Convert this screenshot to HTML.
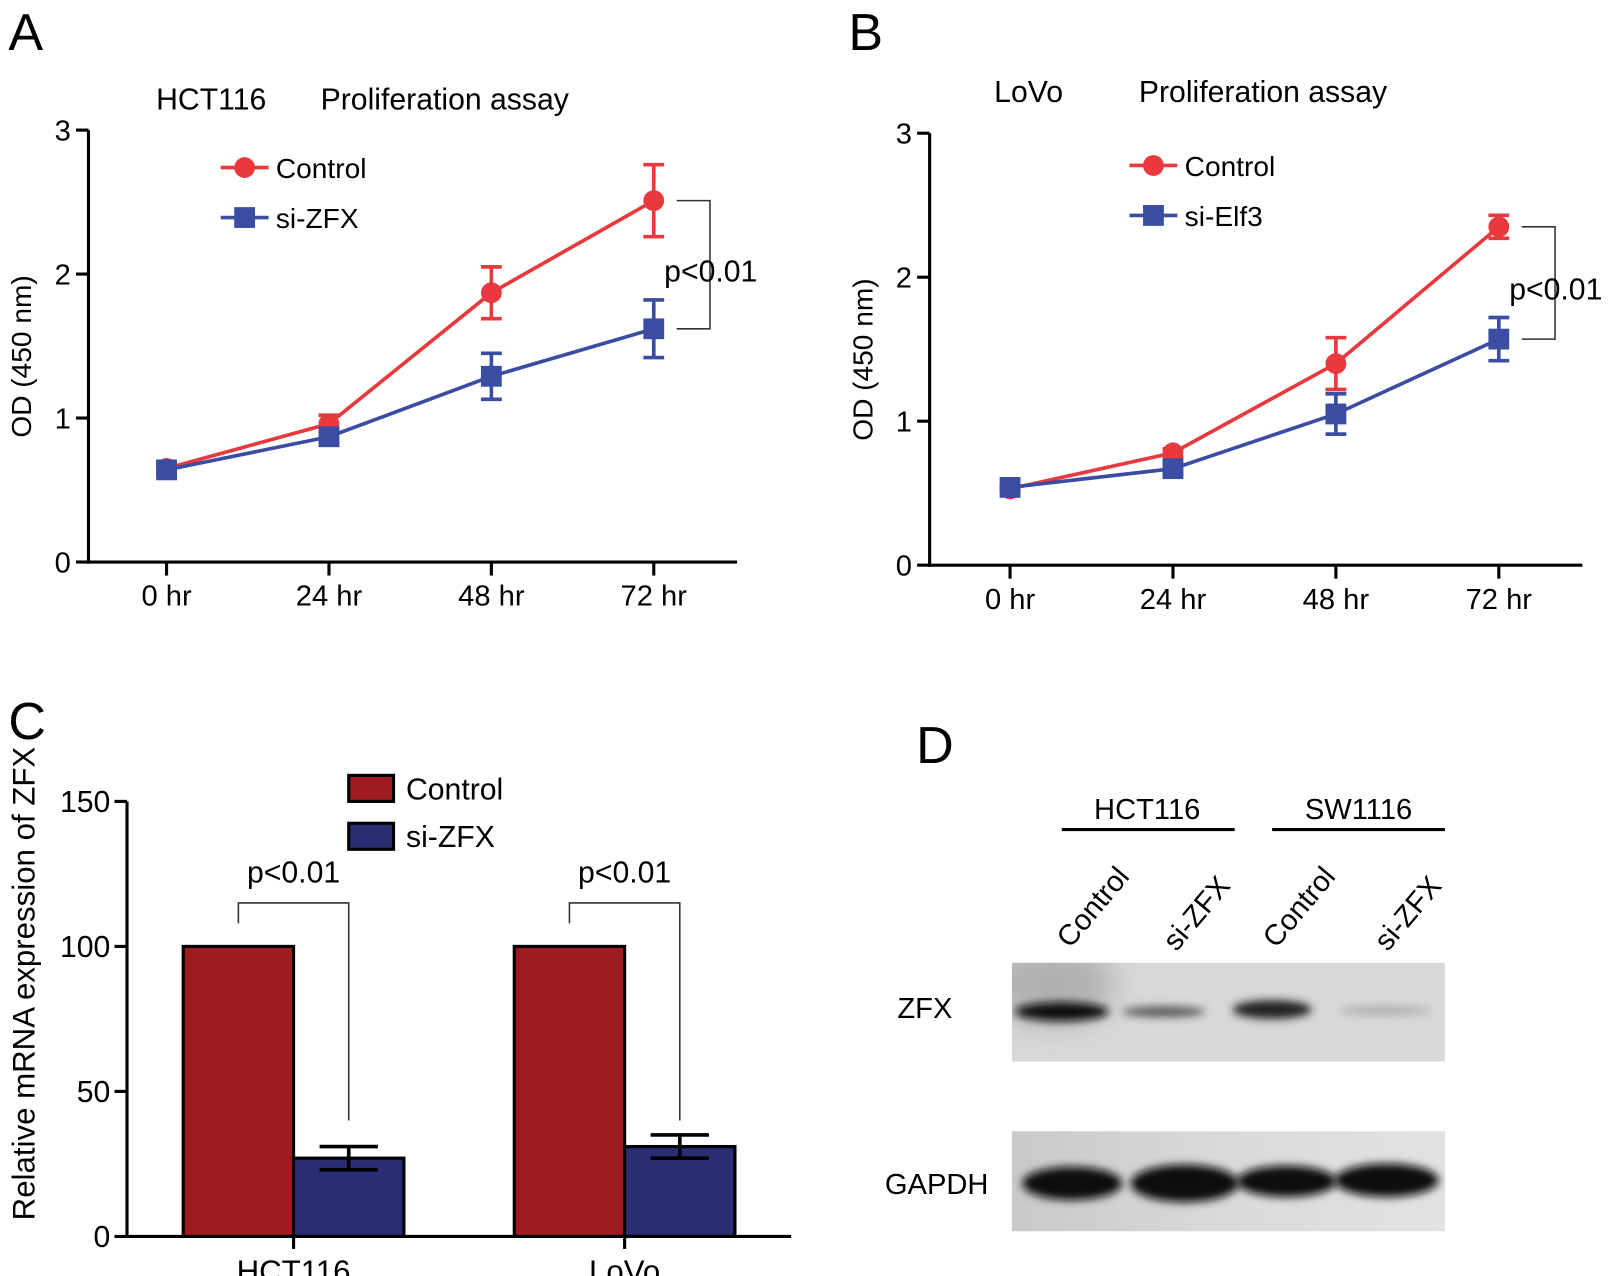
<!DOCTYPE html>
<html><head><meta charset="utf-8"><style>
html,body{margin:0;padding:0;background:#fff;}
svg{display:block;font-family:"Liberation Sans",Arial,sans-serif;}
</style></head><body>
<svg id="fig" width="1624" height="1276" viewBox="0 0 1560 1226" preserveAspectRatio="none" xmlns="http://www.w3.org/2000/svg">
<defs>
<filter id="blur3" x="-50%" y="-200%" width="200%" height="500%"><feGaussianBlur stdDeviation="4"/></filter>
<filter id="blur6" x="-50%" y="-50%" width="200%" height="200%"><feGaussianBlur stdDeviation="14"/></filter>
<clipPath id="zfxclip"><rect x="972" y="925" width="416" height="95"/></clipPath>
<linearGradient id="wbbg" x1="0" x2="1"><stop offset="0" stop-color="#c9c9c9"/><stop offset="0.5" stop-color="#dadada"/><stop offset="1" stop-color="#e2e2e2"/></linearGradient>
</defs>
<g id="panelA"></g>
<g id="panelB"></g>
<g id="panelC"></g>
<g id="panelD">
  <text x="880" y="733" font-size="50">D</text>
  <text x="1102" y="787" font-size="28" text-anchor="middle">HCT116</text>
  <line x1="1020" y1="797" x2="1186" y2="797" stroke="#000" stroke-width="3"/>
  <text x="1305" y="787" font-size="28" text-anchor="middle">SW1116</text>
  <line x1="1222" y1="797" x2="1388" y2="797" stroke="#000" stroke-width="3"/>
  <text transform="translate(1028,912) rotate(-50)" font-size="28">Control</text>
  <text transform="translate(1130,915) rotate(-50)" font-size="28">si-ZFX</text>
  <text transform="translate(1226,912) rotate(-50)" font-size="28">Control</text>
  <text transform="translate(1333,915) rotate(-50)" font-size="28">si-ZFX</text>
  <text x="862" y="978" font-size="28">ZFX</text>
  <text x="850" y="1147" font-size="28">GAPDH</text>
  <g clip-path="url(#zfxclip)">
    <rect x="972" y="925" width="416" height="95" fill="#d8d8d8"/>
    <ellipse cx="1010" cy="945" rx="60" ry="40" fill="#a0a0a0" filter="url(#blur6)" opacity="0.7"/>
    <ellipse cx="1020" cy="972" rx="45" ry="9" fill="#111" filter="url(#blur3)"/>
    <ellipse cx="1118" cy="972" rx="40" ry="5" fill="#555" filter="url(#blur3)"/>
    <ellipse cx="1222" cy="970" rx="38" ry="9" fill="#222" filter="url(#blur3)"/>
    <ellipse cx="1330" cy="971" rx="45" ry="4" fill="#aaa" filter="url(#blur3)"/>
  </g>
  <g>
    <rect x="972" y="1087" width="416" height="96" fill="url(#wbbg)"/>
    <ellipse cx="1030" cy="1137" rx="48" ry="16" fill="#111" filter="url(#blur3)"/>
    <ellipse cx="1138" cy="1137" rx="52" ry="18" fill="#0c0c0c" filter="url(#blur3)"/>
    <ellipse cx="1236" cy="1135" rx="48" ry="15" fill="#111" filter="url(#blur3)"/>
    <ellipse cx="1332" cy="1134" rx="50" ry="16" fill="#111" filter="url(#blur3)"/>
  </g>
</g>
</svg>
<script>
const NS='http://www.w3.org/2000/svg';
const timeLabels=['0 hr','24 hr','48 hr','72 hr'];
const yTicksLine=[0,1,2,3];
const aControl=[0.65,0.96,1.87,2.51];
const aControlErr=[0.04,0.06,0.18,0.25];
const aSi=[0.64,0.87,1.29,1.62];
const aSiErr=[0.03,0.04,0.16,0.20];
const bControl=[0.53,0.78,1.40,2.35];
const bControlErr=[0.02,0.03,0.18,0.08];
const bSi=[0.54,0.67,1.05,1.57];
const bSiErr=[0.02,0.03,0.14,0.15];
const cCategories=['HCT116','LoVo'];
const cControl=[100,100];
const cSi=[27,31];
const cSiErr=[4,4];
const yTicksBar=[0,50,100,150];

function mk(parent,tag,attrs,text){const e=document.createElementNS(NS,tag);for(const k in attrs)e.setAttribute(k,attrs[k]);if(text!==undefined)e.textContent=text;parent.appendChild(e);return e;}

function lineChart(g,o){
  const X=i=>o.x0+o.step*(i+0.5)+o.off, Y=v=>o.y0-(v/3)*(o.y0-o.y3);
  let t=mk(g,'text',{x:o.lx,y:o.ly,'font-size':50});t.textContent=o.letter;
  
  t=mk(g,'text',{x:o.t1x,y:o.ty,'font-size':29},o.t1);
  
  t=mk(g,'text',{x:o.t2x,y:o.ty,'font-size':29},'Proliferation assay');
  
  let a=mk(g,'line',{x1:o.x0,y1:o.y3,x2:o.x0,y2:o.y0+1.5,stroke:'#000','stroke-width':3});
  
  a=mk(g,'line',{x1:o.x0-1.5,y1:o.y0,x2:o.xEnd,y2:o.y0,stroke:'#000','stroke-width':3});
  
  yTicksLine.forEach(v=>{
    const tk=mk(g,'line',{x1:o.x0-12,y1:Y(v),x2:o.x0,y2:Y(v),stroke:'#000','stroke-width':3});
    
    const tl=mk(g,'text',{x:o.x0-17,y:Y(v)+10,'font-size':28,'text-anchor':'end'},String(v));
    
  });
  timeLabels.forEach((s,i)=>{
    const tk=mk(g,'line',{x1:X(i),y1:o.y0,x2:X(i),y2:o.y0+13,stroke:'#000','stroke-width':3});
    
    const tl=mk(g,'text',{x:X(i),y:o.y0+42,'font-size':28,'text-anchor':'middle'},s);
    
  });
  const yt=mk(g,'text',{transform:`translate(${o.x0-55},${(o.y0+o.y3)/2+10}) rotate(-90)`,'font-size':27,'text-anchor':'middle'},'OD (450 nm)');
  
  const series=[[o.ctrl,o.ctrlErr,'#e8393e','circle','control'],[o.si,o.siErr,'#3a4da3','square','si']];
  series.forEach(([vals,errs,col,shape,nm])=>{
    const pl=mk(g,'polyline',{points:vals.map((v,i)=>X(i)+','+Y(v)).join(' '),fill:'none',stroke:col,'stroke-width':3.5});
    
    vals.forEach((v,i)=>{
      const e=errs[i],x=X(i);
      const eb=mk(g,'path',{d:`M${x},${Y(v+e)}V${Y(v-e)}M${x-10},${Y(v+e)}H${x+10}M${x-10},${Y(v-e)}H${x+10}`,stroke:col,'stroke-width':3.5,fill:'none'});
      
      let m;
      if(shape==='circle') m=mk(g,'circle',{cx:x,cy:Y(v),r:10,fill:col});
      else m=mk(g,'rect',{x:x-10,y:Y(v)-10,width:20,height:20,fill:col});
      
    });
  });
  const lg=mk(g,'g',{});
  mk(lg,'line',{x1:o.legX,y1:o.legY,x2:o.legX+46,y2:o.legY,stroke:'#e8393e','stroke-width':3.5});
  mk(lg,'circle',{cx:o.legX+23,cy:o.legY,r:10,fill:'#e8393e'});
  let lt=mk(lg,'text',{x:o.legX+53,y:o.legY+10,'font-size':27},'Control');
  
  mk(lg,'line',{x1:o.legX,y1:o.legY+48,x2:o.legX+46,y2:o.legY+48,stroke:'#3a4da3','stroke-width':3.5});
  mk(lg,'rect',{x:o.legX+13,y:o.legY+38,width:20,height:20,fill:'#3a4da3'});
  lt=mk(lg,'text',{x:o.legX+53,y:o.legY+58,'font-size':27},o.siName);
  
  const x3=X(3),yc=Y(o.ctrl[3]),ys=Y(o.si[3]);
  const br=mk(g,'path',{d:`M${x3+22},${yc}H${x3+54}V${ys}H${x3+22}`,stroke:'#333','stroke-width':1.5,fill:'none'});
  
  const pt=mk(g,'text',{x:x3+10,y:(yc+ys)/2+16,'font-size':29},'p<0.01');
  
}

lineChart(document.getElementById('panelA'),{letter:'A',lx:8,ly:48,t1:'HCT116',t1x:150,t2x:308,ty:105,x0:85,y0:540,y3:125,xEnd:708,step:156,off:-3,
  ctrl:aControl,ctrlErr:aControlErr,si:aSi,siErr:aSiErr,legX:212,legY:161,siName:'si-ZFX'});
lineChart(document.getElementById('panelB'),{letter:'B',lx:815,ly:48,t1:'LoVo',t1x:955,t2x:1094,ty:98,x0:893,y0:543,y3:128,xEnd:1520,step:156.5,off:-1,
  ctrl:bControl,ctrlErr:bControlErr,si:bSi,siErr:bSiErr,legX:1085,legY:159,siName:'si-Elf3'});

(function(){
  const g=document.getElementById('panelC');
  const x0=122,y0=1188,y150=770,Y=v=>y0-(v/150)*(y0-y150);
  const catX=i=>282+i*318, bw=106;
  let t=mk(g,'text',{x:8,y:710,'font-size':50},'C');
  
  cCategories.forEach((c,i)=>{
    const cx=catX(i);
    let b=mk(g,'rect',{x:cx-bw,y:Y(cControl[i]),width:bw,height:y0-Y(cControl[i]),fill:'#9e1b20',stroke:'#000','stroke-width':3});
    
    b=mk(g,'rect',{x:cx,y:Y(cSi[i]),width:bw,height:y0-Y(cSi[i]),fill:'#2b2d73',stroke:'#000','stroke-width':3});
    
    const ex=cx+bw/2,v=cSi[i],e=cSiErr[i];
    const eb=mk(g,'path',{d:`M${ex},${Y(v+e)}V${Y(v-e)}M${ex-28},${Y(v+e)}H${ex+28}M${ex-28},${Y(v-e)}H${ex+28}`,stroke:'#000','stroke-width':3.5,fill:'none'});
    
    const br=mk(g,'path',{d:`M${cx-bw/2},${Y(108)}V${Y(115)}H${ex}V${Y(40)}`,stroke:'#333','stroke-width':1.5,fill:'none'});
    
    const pt=mk(g,'text',{x:cx,y:Y(122),'font-size':29,'text-anchor':'middle'},'p<0.01');
    
    const tk=mk(g,'line',{x1:cx,y1:y0,x2:cx,y2:y0+12,stroke:'#000','stroke-width':3});
    
    const tl=mk(g,'text',{x:cx,y:y0+44,'font-size':30,'text-anchor':'middle'},c);
    
  });
  let a=mk(g,'line',{x1:x0,y1:y150,x2:x0,y2:y0+1.5,stroke:'#000','stroke-width':3});
  
  a=mk(g,'line',{x1:x0-1.5,y1:y0,x2:760,y2:y0,stroke:'#000','stroke-width':3});
  
  yTicksBar.forEach(v=>{
    const tk=mk(g,'line',{x1:x0-12,y1:Y(v),x2:x0,y2:Y(v),stroke:'#000','stroke-width':3});
    
    const tl=mk(g,'text',{x:x0-16,y:Y(v)+10,'font-size':29,'text-anchor':'end'},String(v));
    
  });
  const yt=mk(g,'text',{transform:`translate(33,945) rotate(-90)`,'font-size':30,'text-anchor':'middle'},'Relative mRNA expression of ZFX');
  
  let r=mk(g,'rect',{x:335,y:745,width:43,height:25,fill:'#9e1b20',stroke:'#000','stroke-width':3});
  
  let lt=mk(g,'text',{x:390,y:768,'font-size':29},'Control');
  
  r=mk(g,'rect',{x:335,y:791,width:43,height:25,fill:'#2b2d73',stroke:'#000','stroke-width':3});
  
  lt=mk(g,'text',{x:390,y:814,'font-size':29},'si-ZFX');
  
})();
</script>
</body></html>
